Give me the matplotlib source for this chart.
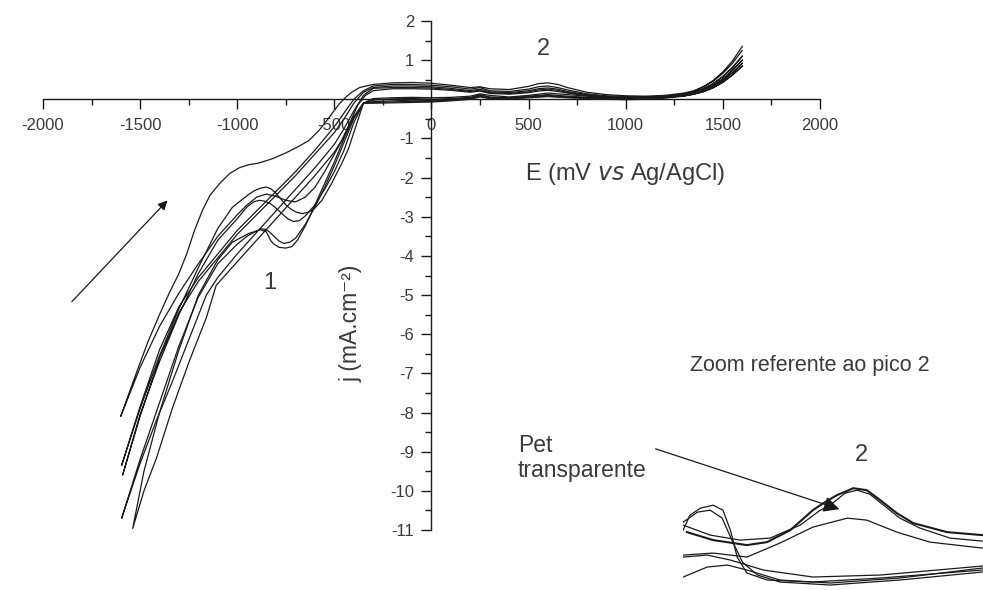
import matplotlib
matplotlib.use("Agg")
import matplotlib.pyplot as plt
from matplotlib.patches import FancyArrowPatch
from matplotlib.ticker import MultipleLocator

plt.rcParams['font.family'] = ['Liberation Sans', 'DejaVu Sans']
plt.rcParams['axes.unicode_minus'] = False

# --- cyclic voltammograms, E in mV, j in mA.cm-2 ---
# potential grids shared by all cycles in the flat (positive) region
E_cath_pos = [1600, 1550, 1500, 1450, 1400, 1350, 1300, 1200, 1100, 1000, 900, 800,
              700, 600, 500, 400, 300, 250, 200, 100, 0, -100, -200, -300]
E_anod_pos = [-200, -100, 0, 100, 200, 250, 300, 400, 500, 550, 600, 650, 700, 800,
              900, 1000, 1100, 1200, 1300, 1350, 1400, 1450, 1500, 1550, 1600]

# cathodic sweep, positive region
c1_cath_pos = [1.35, 0.98, 0.7, 0.48, 0.32, 0.2, 0.13, 0.07, 0.05, 0.04, 0.05, 0.08,
               0.12, 0.16, 0.1, 0.06, 0.1, 0.14, 0.08, 0.05, 0.04, 0.05, 0.04, 0.02]
c2_cath_pos = [1.1, 0.8, 0.58, 0.4, 0.27, 0.18, 0.12, 0.06, 0.03, 0.02, 0.03, 0.05,
               0.08, 0.12, 0.08, 0.04, 0.06, 0.12, 0.05, 0.02, 0.0, 0.02, 0.01, -0.02]
c3_cath_pos = [1.0, 0.74, 0.52, 0.36, 0.24, 0.16, 0.1, 0.05, 0.02, 0.01, 0.02, 0.04,
               0.06, 0.1, 0.06, 0.03, 0.04, 0.1, 0.03, 0.0, -0.03, -0.02, -0.04, -0.06]
c4_cath_pos = [0.92, 0.68, 0.48, 0.33, 0.22, 0.14, 0.09, 0.04, 0.01, 0.0, 0.01, 0.03,
               0.05, 0.08, 0.05, 0.02, 0.03, 0.08, 0.02, -0.02, -0.05, -0.05, -0.07, -0.08]
c5_cath_pos = [0.85, 0.62, 0.44, 0.3, 0.2, 0.13, 0.08, 0.03, 0.0, -0.01, 0.0, 0.02,
               0.04, 0.07, 0.04, 0.01, 0.02, 0.06, 0.0, -0.04, -0.07, -0.08, -0.09, -0.1]

# cathodic sweep, negative region (peak 1)
c1_cath_E = [-350, -400, -450, -500, -550, -600, -650, -700, -750, -800, -850, -900,
             -950, -1000, -1100, -1200, -1300, -1400, -1500, -1600]
c1_cath_j = [-0.1, -0.45, -0.95, -1.4, -1.85, -2.25, -2.5, -2.62, -2.58, -2.48, -2.42, -2.5,
             -2.7, -2.95, -3.5, -4.2, -4.95, -5.8, -6.85, -8.1]
c2_cath_E = [-350, -390, -426, -461, -513, -564, -600, -631, -665, -697, -725, -749, -775,
             -800, -825, -851, -880, -910, -938, -980, -1025, -1100, -1200, -1300,
             -1400, -1500, -1595]
c2_cath_j = [-0.1, -0.7, -1.25, -1.63, -2.14, -2.58, -2.78, -2.88, -2.92, -2.88, -2.8,
             -2.7, -2.55, -2.4, -2.29, -2.24, -2.27, -2.33, -2.42, -2.58, -2.76, -3.3,
             -4.3, -5.35, -6.55, -7.9, -9.35]
c3_cath_E = [-350, -400, -450, -500, -550, -600, -650, -680, -710, -740, -770, -800,
             -830, -860, -887, -915, -950, -1000, -1100, -1200, -1300, -1400, -1500, -1590]
c3_cath_j = [-0.1, -0.6, -1.3, -1.85, -2.3, -2.7, -2.98, -3.1, -3.12, -3.05, -2.92,
             -2.78, -2.66, -2.6, -2.58, -2.62, -2.75, -3.05, -3.6, -4.45, -5.5, -6.7,
             -8.05, -9.6]
c4_cath_E = [-350, -400, -450, -500, -550, -600, -650, -700, -730, -760, -785, -810,
             -835, -855, -875, -900, -950, -1000, -1100, -1200, -1300, -1400, -1500, -1595]
c4_cath_j = [-0.1, -0.5, -1.1, -1.7, -2.25, -2.75, -3.2, -3.55, -3.65, -3.68, -3.62,
             -3.5, -3.38, -3.32, -3.31, -3.36, -3.5, -3.7, -4.2, -5.05, -6.3, -7.75,
             -9.2, -10.7]
c5_cath_E = [-350, -400, -450, -500, -550, -600, -646, -690, -718, -750, -785, -810,
             -826, -851, -880, -910, -938, -1025, -1100, -1200, -1300, -1400, -1480, -1538]
c5_cath_j = [-0.1, -0.45, -1.0, -1.6, -2.15, -2.7, -3.2, -3.6, -3.76, -3.8, -3.78,
             -3.7, -3.62, -3.38, -3.33, -3.38, -3.42, -3.65, -4.1, -5.0, -6.4, -8.0,
             -9.5, -10.96]

# anodic sweep, negative region
c1_anod_E = [-1560, -1520, -1460, -1400, -1350, -1300, -1260, -1220, -1180, -1140,
             -1090, -1040, -990, -940, -890, -820, -750, -690, -630, -580, -540,
             -510, -475, -440, -405, -370, -300]
c1_anod_j = [-7.55, -7.0, -6.2, -5.5, -4.95, -4.45, -3.95, -3.35, -2.85, -2.45,
             -2.15, -1.9, -1.75, -1.67, -1.63, -1.52, -1.37, -1.22, -1.05, -0.8, -0.55,
             -0.35, -0.12, 0.06, 0.2, 0.3, 0.38]
c2_anod_E = [-1500, -1400, -1300, -1200, -1100, -1000, -900, -800, -700, -600, -500,
             -450, -400, -350, -300]
c2_anod_j = [-7.85, -6.4, -5.3, -4.55, -3.95, -3.35, -2.85, -2.35, -1.85, -1.3, -0.7,
             -0.35, 0.0, 0.22, 0.34]
c3_anod_E = [-1500, -1400, -1300, -1200, -1100, -1000, -900, -800, -700, -600, -500,
             -450, -400, -350, -300]
c3_anod_j = [-8.1, -6.6, -5.45, -4.65, -4.05, -3.45, -2.95, -2.45, -1.95, -1.4, -0.85,
             -0.5, -0.1, 0.18, 0.3]
c4_anod_E = [-1500, -1416, -1333, -1246, -1159, -1100, -1000, -900, -800, -700, -600,
             -500, -450, -400, -350, -300]
c4_anod_j = [-9.3, -8.2, -7.2, -6.1, -5.0, -4.55, -3.95, -3.4, -2.85, -2.3, -1.75,
             -1.15, -0.75, -0.3, 0.1, 0.28]
c5_anod_E = [-1480, -1416, -1333, -1246, -1159, -1108, -1000, -900, -800, -700, -600,
             -500, -461, -420, -380, -340, -300]
c5_anod_j = [-10.0, -9.17, -7.88, -6.68, -5.58, -4.75, -4.15, -3.6, -3.05, -2.5, -1.95,
             -1.35, -1.04, -0.6, -0.15, 0.1, 0.22]

# anodic sweep, positive region (peak 2)
c1_anod_pos = [0.42, 0.43, 0.41, 0.36, 0.3, 0.32, 0.27, 0.25, 0.33, 0.4, 0.42, 0.38, 0.3,
               0.18, 0.12, 0.09, 0.08, 0.1, 0.16, 0.22, 0.32, 0.46, 0.66, 0.92, 1.25]
c2_anod_pos = [0.38, 0.38, 0.36, 0.32, 0.26, 0.3, 0.22, 0.2, 0.26, 0.32, 0.34, 0.3, 0.24,
               0.14, 0.09, 0.07, 0.06, 0.08, 0.13, 0.18, 0.27, 0.4, 0.58, 0.82, 1.1]
c3_anod_pos = [0.34, 0.34, 0.32, 0.28, 0.22, 0.26, 0.19, 0.17, 0.22, 0.27, 0.29, 0.26, 0.2,
               0.12, 0.07, 0.05, 0.05, 0.07, 0.11, 0.16, 0.24, 0.36, 0.52, 0.74, 1.0]
c4_anod_pos = [0.3, 0.3, 0.29, 0.25, 0.2, 0.23, 0.17, 0.15, 0.19, 0.24, 0.26, 0.23, 0.18,
               0.1, 0.06, 0.04, 0.04, 0.06, 0.1, 0.14, 0.21, 0.32, 0.47, 0.68, 0.92]
c5_anod_pos = [0.27, 0.27, 0.26, 0.23, 0.18, 0.21, 0.15, 0.13, 0.17, 0.21, 0.23, 0.2, 0.16,
               0.09, 0.05, 0.03, 0.03, 0.05, 0.09, 0.13, 0.19, 0.29, 0.43, 0.62, 0.85]

cycles = [
    (c1_cath_pos, c1_cath_E, c1_cath_j, c1_anod_E, c1_anod_j, c1_anod_pos),
    (c2_cath_pos, c2_cath_E, c2_cath_j, c2_anod_E, c2_anod_j, c2_anod_pos),
    (c3_cath_pos, c3_cath_E, c3_cath_j, c3_anod_E, c3_anod_j, c3_anod_pos),
    (c4_cath_pos, c4_cath_E, c4_cath_j, c4_anod_E, c4_anod_j, c4_anod_pos),
    (c5_cath_pos, c5_cath_E, c5_cath_j, c5_anod_E, c5_anod_j, c5_anod_pos),
]

# --- zoom on peak 2 (inset, no axes) ---
z1_E = [405, 440, 485, 512, 543, 573, 587, 605, 627, 645, 663, 685, 707, 752, 799]
z1_j = [0.232, 0.2, 0.18, 0.192, 0.24, 0.32, 0.348, 0.38, 0.408, 0.4, 0.36, 0.308, 0.268, 0.232, 0.22]
z2_E = [400, 436, 476, 516, 556, 583, 596, 616, 632, 649, 669, 689, 716, 756, 799]
z2_j = [0.26, 0.22, 0.2, 0.208, 0.26, 0.32, 0.34, 0.388, 0.4, 0.384, 0.336, 0.288, 0.248, 0.208, 0.196]
z3_E = [400, 440, 485, 529, 573, 619, 645, 685, 729, 799]
z3_j = [0.14, 0.148, 0.132, 0.188, 0.252, 0.288, 0.28, 0.232, 0.192, 0.168]
z4_E = [400, 409, 423, 440, 453, 463, 472, 485, 512, 573, 663, 799]
z4_j = [0.24, 0.3, 0.328, 0.34, 0.32, 0.24, 0.132, 0.068, 0.04, 0.032, 0.048, 0.08]
z5_E = [400, 419, 436, 452, 465, 479, 499, 529, 596, 689, 799]
z5_j = [0.272, 0.312, 0.32, 0.288, 0.2, 0.112, 0.06, 0.032, 0.02, 0.04, 0.072]
z6_E = [400, 432, 463, 507, 573, 663, 799]
z6_j = [0.132, 0.14, 0.12, 0.08, 0.052, 0.06, 0.096]
z7_E = [400, 432, 459, 485, 529, 596, 689, 799]
z7_j = [0.052, 0.092, 0.1, 0.08, 0.04, 0.028, 0.048, 0.088]

ink = '#1a1a1a'
txt = '#3a3a3a'

fig = plt.figure(figsize=(9.83, 5.9), dpi=100)
ax = fig.add_axes([0.0437, 0.1017, 0.7904, 0.8627])

for cath_pos, cE, cj, aE, aj, anod_pos in cycles:
    E = E_cath_pos + cE + aE + E_anod_pos
    j = cath_pos + cj + aj + anod_pos
    ax.plot(E, j, color=ink, lw=0.9)

ax.set_xlim(-2000, 2000)
ax.set_ylim(-11, 2)
ax.spines['left'].set_position(('data', 0))
ax.spines['bottom'].set_position(('data', 0))
ax.spines['right'].set_visible(False)
ax.spines['top'].set_visible(False)
for s in ('left', 'bottom'):
    ax.spines[s].set_color(ink)
    ax.spines[s].set_linewidth(1.0)
ax.patch.set_alpha(0)

ax.xaxis.set_major_locator(MultipleLocator(500))
ax.xaxis.set_minor_locator(MultipleLocator(250))
ax.yaxis.set_minor_locator(MultipleLocator(0.5))
ax.tick_params(which='major', length=7.5, width=1.0, color=ink, labelsize=12,
               labelcolor=txt)
ax.tick_params(which='minor', length=4.5, width=1.0, color=ink)
ax.tick_params(axis='x', which='major', pad=6)
ax.tick_params(axis='y', which='major', pad=5)

yt = list(range(-11, 3))
ax.set_yticks(yt)
ax.set_yticklabels(['' if v == 0 else str(v) for v in yt])

ax.text(995, -1.9, 'E (mV $\\it{vs}$ Ag/AgCl)', fontsize=17, color=txt,
        ha='center', va='center')
ax.text(-415, -5.73, 'j (mA.cm\u207b\u00b2)', fontsize=16.5, color=txt, rotation=90,
        ha='center', va='center')
ax.text(579, 1.29, '2', fontsize=17, color=txt, ha='center', va='center')
ax.text(-831, -4.68, '1', fontsize=17, color=txt, ha='center', va='center')

ax.annotate('', xy=(-1349, -2.53), xytext=(-1861, -5.22),
            arrowprops=dict(arrowstyle='-|>', color=ink, lw=0.9, mutation_scale=14))

# inset with the zoom on peak 2
axz = fig.add_axes([0.695, 0.0, 0.305, 0.203])
for zE, zj in [(z2_E, z2_j), (z3_E, z3_j), (z4_E, z4_j),
               (z5_E, z5_j), (z6_E, z6_j), (z7_E, z7_j)]:
    axz.plot(zE, zj, color=ink, lw=0.9)
axz.plot(z1_E, z1_j, color=ink, lw=1.5)
axz.set_xlim(400, 800)
axz.set_ylim(0, 0.48)
axz.axis('off')

fig.text(0.824, 0.38, 'Zoom referente ao pico 2', fontsize=15.5, color=txt,
         ha='center', va='center')
fig.text(0.876, 0.228, '2', fontsize=17, color=txt, ha='center', va='center')
fig.text(0.527, 0.245, 'Pet', fontsize=16.5, color=txt, ha='left', va='center')
fig.text(0.527, 0.203, 'transparente', fontsize=16.5, color=txt, ha='left', va='center')
fig.patches.append(FancyArrowPatch(
    (653 / 983, 1 - 448 / 590), (842 / 983, 1 - 510 / 590),
    transform=fig.transFigure, arrowstyle='-|>', mutation_scale=24,
    color=ink, lw=0.9))

fig.savefig('out.png', dpi=100, facecolor='white')
